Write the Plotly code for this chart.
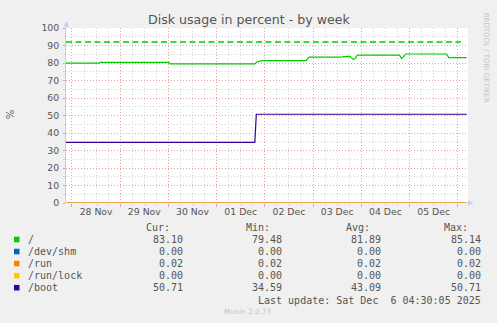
import plotly.graph_objects as go

# ---------------- data ----------------
root_times = [
    "2025-11-27 21:00", "2025-11-28 11:00", "2025-11-28 11:30", "2025-11-28 12:30",
    "2025-11-28 13:30", "2025-11-28 14:00", "2025-11-28 17:30", "2025-11-28 18:00",
    "2025-11-28 18:30", "2025-11-30 00:00", "2025-11-30 01:00", "2025-11-30 13:00",
    "2025-11-30 13:30", "2025-11-30 14:00", "2025-11-30 21:30", "2025-11-30 22:00",
    "2025-11-30 22:30", "2025-12-01 16:00", "2025-12-01 16:30", "2025-12-01 18:30",
    "2025-12-01 19:00", "2025-12-01 20:00", "2025-12-01 21:30", "2025-12-01 22:30",
    "2025-12-02 20:30", "2025-12-02 22:00", "2025-12-03 14:00", "2025-12-03 15:00",
    "2025-12-03 16:00", "2025-12-03 16:30", "2025-12-03 17:00", "2025-12-03 18:30",
    "2025-12-03 20:00", "2025-12-03 21:00", "2025-12-03 22:00", "2025-12-04 19:00",
    "2025-12-04 20:00", "2025-12-04 21:00", "2025-12-04 22:00", "2025-12-05 18:30",
    "2025-12-05 19:30", "2025-12-06 04:30",
]
root_values = [
    79.9, 79.9, 80.1, 79.9,
    79.9, 80.4, 80.4, 80.2,
    80.4, 80.4, 79.5, 79.5,
    79.7, 79.5, 79.5, 79.7,
    79.48, 79.5, 79.9, 79.6,
    79.5, 80.6, 81.3, 81.4,
    81.4, 83.3, 83.3, 83.7,
    83.6, 83.5, 83.8, 83.7,
    82.1, 82.5, 84.5, 84.5,
    82.7, 83.5, 85.14, 85.14,
    83.1, 83.1,
]
boot_times = ["2025-11-27 21:00", "2025-12-01 19:00", "2025-12-01 19:45", "2025-12-06 04:30"]
boot_values = [34.59, 34.59, 50.71, 50.71]
flat_times = ["2025-11-27 21:00", "2025-12-06 04:30"]
shm_values = [0.0, 0.0]
run_values = [0.02, 0.02]
lock_values = [0.0, 0.0]
warning_times = ["2025-11-27 21:00", "2025-12-06 01:30"]
warning_values = [92, 92]

day_midnights = ["2025-11-28", "2025-11-29", "2025-11-30", "2025-12-01", "2025-12-02",
                 "2025-12-03", "2025-12-04", "2025-12-05", "2025-12-06"]
day_noons = ["2025-11-28 12:00", "2025-11-29 12:00", "2025-11-30 12:00", "2025-12-01 12:00",
             "2025-12-02 12:00", "2025-12-03 12:00", "2025-12-04 12:00", "2025-12-05 12:00"]
day_labels = ["28 Nov", "29 Nov", "30 Nov", "01 Dec", "02 Dec", "03 Dec", "04 Dec", "05 Dec"]
y_ticks = [0, 10, 20, 30, 40, 50, 60, 70, 80, 90, 100]

legend_names = ["/", "/dev/shm", "/run", "/run/lock", "/boot"]
legend_colors = ["#00CC00", "#0066B3", "#FF8000", "#FFCC00", "#330099"]
cur_vals = ["83.10", "0.00", "0.02", "0.00", "50.71"]
min_vals = ["79.48", "0.00", "0.02", "0.00", "34.59"]
avg_vals = ["81.89", "0.00", "0.02", "0.00", "43.09"]
max_vals = ["85.14", "0.00", "0.02", "0.00", "50.71"]

# ---------------- layout helpers ----------------
W, H = 497, 323
L, R, T, B = 66, 29, 28, 120
PW, PH = W - L - R, H - T - B


def px(x):
    return (x - L) / PW


def py(y):
    return (H - B - y) / PH


TXT = "#555555"
MAJ = "rgba(235,140,140,0.75)"
MIN = "#D6D6D6"
AXC = "#C8C8F0"
DOT = "1px,2px"

fig = go.Figure()

fig.add_trace(go.Scatter(x=warning_times, y=warning_values, mode="lines",
                         line=dict(color="#00CC00", width=1.3, dash="6px,3.5px"),
                         hoverinfo="skip", showlegend=False))
fig.add_trace(go.Scatter(x=root_times, y=root_values, mode="lines",
                         line=dict(color=legend_colors[0], width=1.2), showlegend=False))
fig.add_trace(go.Scatter(x=flat_times, y=shm_values, mode="lines",
                         line=dict(color=legend_colors[1], width=1.2), showlegend=False))
fig.add_trace(go.Scatter(x=flat_times, y=run_values, mode="lines",
                         line=dict(color=legend_colors[2], width=1.2), showlegend=False))
fig.add_trace(go.Scatter(x=flat_times, y=lock_values, mode="lines",
                         line=dict(color="#E8C060", width=1.0), showlegend=False))
fig.add_trace(go.Scatter(x=boot_times, y=boot_values, mode="lines",
                         line=dict(color=legend_colors[4], width=1.2), showlegend=False))
# invisible trace to carry the overlay axis (midnight grid)
fig.add_trace(go.Scatter(x=flat_times, y=shm_values, xaxis="x2", mode="lines",
                         line=dict(width=0), hoverinfo="skip", showlegend=False, opacity=0))

xr = ["2025-11-27 21:01", "2025-12-06 05:07"]

fig.update_layout(
    width=W, height=H,
    margin=dict(l=L, r=R, t=T, b=B, pad=0),
    paper_bgcolor="#F0F0F0", plot_bgcolor="#FFFFFF",
    font=dict(family="DejaVu Sans", color=TXT),
    xaxis=dict(type="date", range=xr, tickmode="array", tickvals=day_noons,
               ticktext=day_labels, showgrid=False, zeroline=False, ticks="",
               tickfont=dict(size=9.3, color=TXT), showline=False, fixedrange=True,
               ticklabelstandoff=2),
    xaxis2=dict(type="date", range=xr, overlaying="x", anchor="y", side="bottom",
                tickmode="array", tickvals=day_midnights, showticklabels=False,
                showgrid=True, gridcolor=MAJ, griddash=DOT, gridwidth=1,
                ticks="outside", ticklen=3, tickcolor=MAJ, zeroline=False,
                showline=False,
                minor=dict(dtick=6 * 3600 * 1000, tick0="2025-11-28", showgrid=True,
                           gridcolor=MIN, griddash=DOT, gridwidth=1,
                           ticks="outside", ticklen=2, tickcolor=MIN)),
    yaxis=dict(range=[0, 100], tickmode="array", tickvals=y_ticks,
               showgrid=True, gridcolor=MAJ, griddash=DOT, gridwidth=1,
               zeroline=False, ticks="outside", ticklen=2, tickcolor=MAJ,
               tickfont=dict(size=9.3, color=TXT), showline=True, linecolor=AXC,
               linewidth=1, ticklabelstandoff=2,
               minor=dict(dtick=5, tick0=0, showgrid=True, gridcolor=MIN,
                          griddash=DOT, gridwidth=1, ticks="outside",
                          ticklen=2, tickcolor=MIN)),
)

shapes = []
# axis arrows
shapes.append(dict(type="line", xref="paper", yref="paper", x0=px(66.5), x1=px(66.5),
                   y0=py(28), y1=py(24), line=dict(color=AXC, width=1)))
shapes.append(dict(type="path", xref="paper", yref="paper",
                   path="M %f,%f L %f,%f L %f,%f Z" % (px(63.8), py(26.5), px(69.2), py(26.5),
                                                        px(66.5), py(21)),
                   fillcolor=AXC, line=dict(width=0)))
shapes.append(dict(type="path", xref="paper", yref="paper",
                   path="M %f,%f L %f,%f L %f,%f Z" % (px(468), py(200.3), px(468), py(205.7),
                                                        px(473.5), py(203)),
                   fillcolor=AXC, line=dict(width=0)))

ann = []
# title
ann.append(dict(text="Disk usage in percent - by week", xref="paper", yref="paper",
                x=px(249), y=py(19.3), showarrow=False, xanchor="center", yanchor="middle",
                font=dict(size=12.6, color=TXT, family="DejaVu Sans")))
# y title
ann.append(dict(text="%", xref="paper", yref="paper", x=px(10.3), y=py(114),
                showarrow=False, textangle=-90, xanchor="center", yanchor="middle",
                font=dict(size=10, color=TXT, family="DejaVu Sans")))
# rrdtool credit
ann.append(dict(text="RRDTOOL / TOBI OETIKER", xref="paper", yref="paper", x=px(486.3),
                y=py(58), showarrow=False, textangle=90, xanchor="center", yanchor="middle",
                font=dict(size=7, color="#C4C4C4", family="DejaVu Sans")))
# munin version
ann.append(dict(text="Munin 2.0.73", xref="paper", yref="paper", x=px(247.5), y=py(311.7),
                showarrow=False, xanchor="center", yanchor="middle",
                font=dict(size=7.2, color="#C4C4C4", family="DejaVu Sans")))

MONO = dict(family="DejaVu Sans Mono", size=10, color=TXT)
header_y = 227.7
for txt, xr_ in zip(["Cur:", "Min:", "Avg:", "Max:"], [172.3, 272.3, 371.7, 470]):
    ann.append(dict(text=txt, xref="paper", yref="paper", x=px(xr_), y=py(header_y),
                    showarrow=False, xanchor="right", yanchor="middle", font=MONO))

row_y0, row_dy = 239.5, 12.05
for i, name in enumerate(legend_names):
    yy = row_y0 + i * row_dy
    shapes.append(dict(type="rect", xref="paper", yref="paper", x0=px(14), x1=px(19.5),
                       y0=py(yy - 2.8), y1=py(yy + 2.8), fillcolor=legend_colors[i],
                       line=dict(width=0)))
    ann.append(dict(text=name, xref="paper", yref="paper", x=px(25.5), y=py(yy),
                    showarrow=False, xanchor="left", yanchor="middle", font=MONO))
    for vals, xr_ in zip([cur_vals, min_vals, avg_vals, max_vals], [185, 284.3, 383.3, 482.7]):
        ann.append(dict(text=vals[i], xref="paper", yref="paper", x=px(xr_), y=py(yy),
                        showarrow=False, xanchor="right", yanchor="middle", font=MONO))

ann.append(dict(text="Last update: Sat Dec&nbsp;&nbsp;6 04:30:05 2025", xref="paper",
                yref="paper", x=px(482.7), y=py(300.7), showarrow=False, xanchor="right",
                yanchor="middle", font=MONO))

fig.update_layout(shapes=shapes, annotations=ann)
fig.write_html("out.html")
